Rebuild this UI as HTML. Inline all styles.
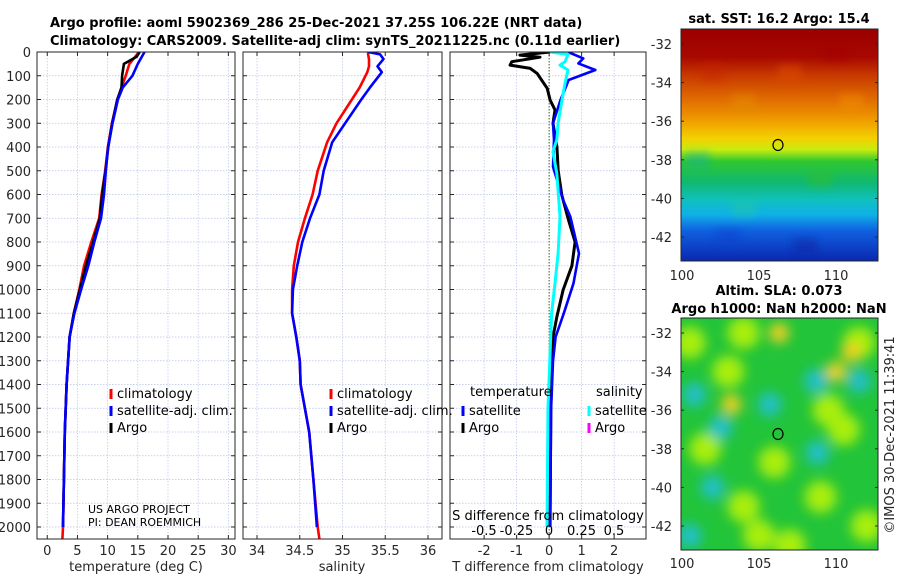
<!DOCTYPE html>
<html><head><meta charset="utf-8"><style>
body{margin:0;background:#fff;}
svg{display:block;font-family:"DejaVu Sans","Liberation Sans",sans-serif;}
.t{font-size:13px;fill:#262626;}
.b{font-weight:bold;font-size:13px;fill:#000;}
.l{font-size:13px;fill:#000;}
</style></head><body>
<svg id="s" width="900" height="580" viewBox="0 0 900 580">
<defs>
<linearGradient id="sst" x1="0" y1="0" x2="0" y2="1">
<stop offset="0" stop-color="#9a0000"/><stop offset="0.12" stop-color="#a80800"/>
<stop offset="0.2" stop-color="#c83a00"/><stop offset="0.3" stop-color="#e06a00"/>
<stop offset="0.4" stop-color="#f0a000"/><stop offset="0.47" stop-color="#f4d000"/>
<stop offset="0.52" stop-color="#c8ec10"/><stop offset="0.57" stop-color="#30c830"/>
<stop offset="0.66" stop-color="#10b870"/><stop offset="0.74" stop-color="#10c0c0"/>
<stop offset="0.8" stop-color="#10b0e8"/><stop offset="0.87" stop-color="#1060e0"/>
<stop offset="1" stop-color="#0a28b0"/></linearGradient>
<filter id="bl"><feGaussianBlur stdDeviation="6"/></filter>
<filter id="bl2"><feGaussianBlur stdDeviation="4"/></filter>
<clipPath id="c1"><rect x="37" y="52" width="198" height="487"/></clipPath>
<clipPath id="c2"><rect x="243" y="52" width="199" height="487"/></clipPath>
<clipPath id="c3"><rect x="450" y="52" width="196" height="487"/></clipPath>
<clipPath id="cm1"><rect x="681" y="29" width="197" height="232"/></clipPath>
<clipPath id="cm2"><rect x="681" y="318" width="197" height="232"/></clipPath>
</defs>
<text class="b" x="50" y="27">Argo profile: aoml 5902369_286 25-Dec-2021 37.25S 106.22E (NRT data)</text>
<text class="b" x="50" y="45">Climatology: CARS2009. Satellite-adj clim: synTS_20211225.nc (0.11d earlier)</text>
<g id="grid"></g>
<g id="marks"></g>
<g id="axes"></g>
<text class="b" x="779" y="23" text-anchor="middle">sat. SST: 16.2 Argo: 15.4</text>
<rect x="681" y="29" width="197" height="232" fill="url(#sst)"/>
<g id="sstspots" opacity="0.45" clip-path="url(#cm1)" filter="url(#bl2)"></g>
<ellipse cx="778" cy="145" rx="5" ry="5.5" fill="none" stroke="#000" stroke-width="1.2"/>
<rect x="681" y="29" width="197" height="232" fill="none" stroke="#262626"/>
<text class="b" x="779" y="295" text-anchor="middle">Altim. SLA: 0.073</text>
<text class="b" x="779" y="313" text-anchor="middle">Argo h1000: NaN h2000: NaN</text>
<rect x="681" y="318" width="197" height="232" fill="#22c43a"/>
<g id="slablobs" clip-path="url(#cm2)" filter="url(#bl)"></g>
<ellipse cx="778" cy="434" rx="5" ry="5.5" fill="none" stroke="#000" stroke-width="1.2"/>
<rect x="681" y="318" width="197" height="232" fill="none" stroke="#262626"/>
<text class="t" x="0" y="0" transform="translate(894,435) rotate(-90)" text-anchor="middle">©IMOS 30-Dec-2021 11:39:41</text>
<g id="maxes"></g>
</svg>
<script>
const depthTicks=[0,100,200,300,400,500,600,700,800,900,1000,1100,1200,1300,1400,1500,1600,1700,1800,1900,2000];
const tTicks=[0,5,10,15,20,25,30];
const sTicks=[34,34.5,35,35.5,36];
const dTicks=[-2,-1,0,1,2];
const dsTickLabels=["-0.5","-0.25","0","0.25","0.5"];
const dsTickVals=[-0.5,-0.25,0,0.25,0.5];
const tempClimDepth=[0,50,100,150,200,300,400,500,600,700,800,900,1000,1100,1200,1400,1600,2000,2050];
const tempClim=[15.2,13.6,13.0,12.3,11.6,10.7,10.05,9.6,9.0,8.6,7.3,6.1,5.3,4.4,3.7,3.2,2.9,2.6,2.5];
const tempSat=[16.1,15.0,14.1,12.5,11.7,10.8,10.1,9.7,9.4,8.9,7.8,6.8,5.6,4.5,3.7,3.2,2.9,2.6,null];
const tempArgoDepth=[0,20,50,100,150,200,300,400,500,600,700,800,900,1000,1100,1200,1400,1600,2000];
const tempArgo=[15.3,14.8,12.7,12.4,12.3,11.6,10.75,10.1,9.65,9.1,8.7,7.6,6.4,5.4,4.4,3.7,3.2,2.9,2.6];
const salDepth=[0,10,30,60,85,150,200,300,380,500,600,700,800,900,1000,1100,1200,1300,1400,1600,1800,2000,2050];
const salClim=[35.30,35.30,35.31,35.31,35.29,35.2,35.11,34.93,34.82,34.71,34.65,34.56,34.48,34.43,34.41,34.41,34.46,34.5,34.51,34.61,34.66,34.71,34.73];
const salSat=[35.30,35.44,35.48,35.41,35.46,35.32,35.22,35.03,34.88,34.78,34.73,34.62,34.53,34.47,34.42,34.41,34.46,34.5,34.51,34.61,34.66,34.70,null];
const dArgoDepth=[0,13,22,41,55,69,90,153,202,244,300,399,500,602,700,800,900,1002,1114,1200,1500,2000];
const dArgoT=[0.03,-0.9,-0.28,-1.15,-1.2,-0.58,-0.37,-0.06,0.03,0.18,0.12,0.24,0.28,0.39,0.58,0.8,0.7,0.43,0.24,0.12,0.05,0.03];
const dSatDepth=[0,27,48,76,118,152,202,300,370,483,623,693,848,974,1100,1200,1300,1500,2000];
const dSatT=[0.58,1.05,0.9,1.42,0.6,0.5,0.35,0.12,0.15,0.12,0.43,0.65,0.92,0.75,0.45,0.2,0.12,0.06,0.03];
const dSatSDepth=[0,10,41,55,76,132,202,300,370,420,510,693,848,974,1100,1500,2000];
const dSatS=[0.01,0.146,0.123,0.085,0.146,0.123,0.1,0.07,0.06,0.03,0.06,0.085,0.07,0.046,0.02,-0.008,-0.015];

const NS='http://www.w3.org/2000/svg';
function mk(tag,at,parent){const e=document.createElementNS(NS,tag);for(const k in at)e.setAttribute(k,at[k]);parent.appendChild(e);return e;}
const Y=d=>52+d*0.2375;
const P=[{x0:37,x1:235,v0:-1.7,v1:31.1},{x0:243,x1:442,v0:33.836,v1:36.164},{x0:450,x1:646,v0:-3.05,v1:2.98}];
const X=(i,v)=>P[i].x0+(v-P[i].v0)/(P[i].v1-P[i].v0)*(P[i].x1-P[i].x0);
const XS=v=>549+v*130;
const grid=document.getElementById('grid'),marks=document.getElementById('marks'),axes=document.getElementById('axes');
const pn=['temperature-panel','salinity-panel','difference-panel'];
const xt=[tTicks,sTicks,dTicks];
P.forEach((p,i)=>{
  depthTicks.forEach(d=>{const l=mk('line',{x1:p.x0,x2:p.x1,y1:Y(d),y2:Y(d),stroke:'#b8c4e8','stroke-width':0.7,'stroke-dasharray':'1.5 1.5'},grid);
    
    mk('line',{x1:p.x0,x2:p.x0+4,y1:Y(d),y2:Y(d),stroke:'#262626'},axes);mk('line',{x1:p.x1-4,x2:p.x1,y1:Y(d),y2:Y(d),stroke:'#262626'},axes);});
  xt[i].forEach(v=>{const x=X(i,v);const l=mk('line',{x1:x,x2:x,y1:52,y2:539,stroke:(i==2&&v==0)?'#3a5a2a':'#b8c4e8','stroke-width':(i==2&&v==0)?1:0.7,'stroke-dasharray':'1.5 1.5'},grid);
    
    mk('line',{x1:x,x2:x,y1:539,y2:535,stroke:'#262626'},axes);mk('line',{x1:x,x2:x,y1:52,y2:56,stroke:'#262626'},axes);
    const t=mk('text',{x:x,y:555,'text-anchor':'middle',class:'t'},axes);t.textContent=String(v);
    });
  const r=mk('rect',{x:p.x0,y:52,width:p.x1-p.x0,height:487,fill:'none',stroke:'#262626'},axes);
  
});
depthTicks.forEach(d=>{const t=mk('text',{x:31,y:Y(d)+5,'text-anchor':'end',class:'t'},axes);t.textContent=d;
  });
[['temperature (deg C)',136,'temperature-axis-title'],['salinity',342,'salinity-axis-title'],['T difference from climatology',548,'t-diff-axis-title']].forEach(a=>{
  const t=mk('text',{x:a[1],y:571,'text-anchor':'middle',class:'t'},axes);t.textContent=a[0];
  });
const st=mk('text',{x:548,y:520,'text-anchor':'middle',class:'l'},axes);st.textContent='S difference from climatology';

dsTickVals.forEach((v,k)=>{const t=mk('text',{x:XS(v),y:535,'text-anchor':'middle',class:'l'},axes);t.textContent=dsTickLabels[k];
  });

function line(depths,vals,fx,color,clip,name,w){
  let pts=[];depths.forEach((d,k)=>{if(vals[k]!==null)pts.push(fx(vals[k]).toFixed(1)+','+Y(d).toFixed(1));});
  const e=mk('polyline',{points:pts.join(' '),fill:'none',stroke:color,'stroke-width':w||2.6,'stroke-linejoin':'round','clip-path':'url(#'+clip+')'},marks);
  }
line(tempClimDepth,tempClim,v=>X(0,v),'#ff0000','c1','temp-climatology-line');
line(tempArgoDepth,tempArgo,v=>X(0,v),'#000','c1','temp-argo-line');
line(tempClimDepth,tempSat,v=>X(0,v),'#0000ff','c1','temp-satellite-line');
line(salDepth,salClim,v=>X(1,v),'#ff0000','c2','sal-climatology-line');
line(salDepth,salSat,v=>X(1,v),'#0000ff','c2','sal-satellite-line');
line(dArgoDepth,dArgoT,v=>X(2,v),'#000','c3','t-diff-argo-line',3);
line(dSatDepth,dSatT,v=>X(2,v),'#0000ff','c3','t-diff-satellite-line');
line(dSatSDepth,dSatS,XS,'#00ffff','c3','s-diff-satellite-line',3);

function leg(x,y,color,txt,name){const m=mk('rect',{x:x-1.5,y:y-7,width:3,height:10,fill:color},axes);
  
  if(txt){const t=mk('text',{x:x+6,y:y+2,class:'l'},axes);t.textContent=txt;}}
[[111,'temp'],[331,'sal']].forEach(a=>{leg(a[0],396,'#ff0000','climatology',a[1]+'-legend-climatology');
  leg(a[0],413,'#0000ff','satellite-adj. clim.',a[1]+'-legend-satellite');leg(a[0],430,'#000','Argo',a[1]+'-legend-argo');});
const tl=mk('text',{x:470,y:396,class:'l'},axes);tl.textContent='temperature';
const sl=mk('text',{x:596,y:396,class:'l'},axes);sl.textContent='salinity';
leg(463,413,'#0000ff','satellite','diff-legend-t-satellite');leg(463,430,'#000','Argo','diff-legend-t-argo');
leg(589,413,'#00ffff','satellite','diff-legend-s-satellite');leg(589,430,'#ff00ff','Argo','diff-legend-s-argo');
const c1=mk('text',{x:88,y:513,style:'font-size:11px',fill:'#000'},axes);c1.textContent='US ARGO PROJECT';
const c2=mk('text',{x:88,y:526,style:'font-size:11px',fill:'#000'},axes);c2.textContent='PI: DEAN ROEMMICH';

const mLat=[-32,-34,-36,-38,-40,-42],mLon=[100,105,110];
const MX=lon=>682+(lon-100)*15.4;
const maxes=document.getElementById('maxes');
[0,1].forEach(mi=>{const y0=mi?333:44;
  mLat.forEach(l=>{const y=y0+(-32-l)*19.3;const t=mk('text',{x:672,y:y+5,'text-anchor':'end',class:'t'},maxes);t.textContent=l;
    
    mk('line',{x1:681,x2:684,y1:y,y2:y,stroke:'#262626'},maxes);mk('line',{x1:875,x2:878,y1:y,y2:y,stroke:'#262626'},maxes);});
  mLon.forEach(l=>{const x=MX(l);const t=mk('text',{x:x,y:mi?568:280,'text-anchor':'middle',class:'t'},maxes);t.textContent=l;
    });});
const slaCyan=[[105.7,-35.7],[108.7,-34.5],[111.5,-34.5],[100.8,-35.2],[102.5,-36.9],[108.8,-38.2],[102,-40],[100.5,-42.5]];
const slaYellow=[[106.3,-32],[111,-33],[103.2,-35.7],[110,-34]];
const slaLime=[[100.5,-32.5],[103,-34],[106,-38.7],[104,-41],[109,-40.5],[110.5,-37],[107,-43],[112,-42],[101.5,-38],[105,-42.5],[109.5,-36],[111.5,-32.5],[104,-32]];
const gb=document.getElementById('slablobs');
const MY2=lat=>333+(-32-lat)*19.3;
slaLime.forEach(p=>{const e=mk('circle',{cx:MX(p[0]),cy:MY2(p[1]),r:16,fill:'#a8ee10'},gb);});
slaYellow.forEach(p=>{const e=mk('circle',{cx:MX(p[0]),cy:MY2(p[1]),r:10,fill:'#f0d020'},gb);});
slaCyan.forEach(p=>{const e=mk('circle',{cx:MX(p[0]),cy:MY2(p[1]),r:12,fill:'#20c0c8'},gb);});
const sstSpots=[[102,-33.5,'#c82000'],[107,-33.5,'#e05000'],[110,-32.5,'#a00000'],[104,-35,'#e09000'],[111,-35,'#f09000'],[101,-38,'#10b0a0'],[109,-39,'#30c020'],[104,-40.5,'#20c8a0'],[103,-42,'#1040d0'],[108,-42.5,'#0a20a0']];
const sg=document.getElementById('sstspots');
sstSpots.forEach(p=>{const e=mk('rect',{x:MX(p[0])-12,y:44+(-32-p[1])*19.3-8,width:24,height:16,fill:p[2]},sg);});
</script>
</body></html>
